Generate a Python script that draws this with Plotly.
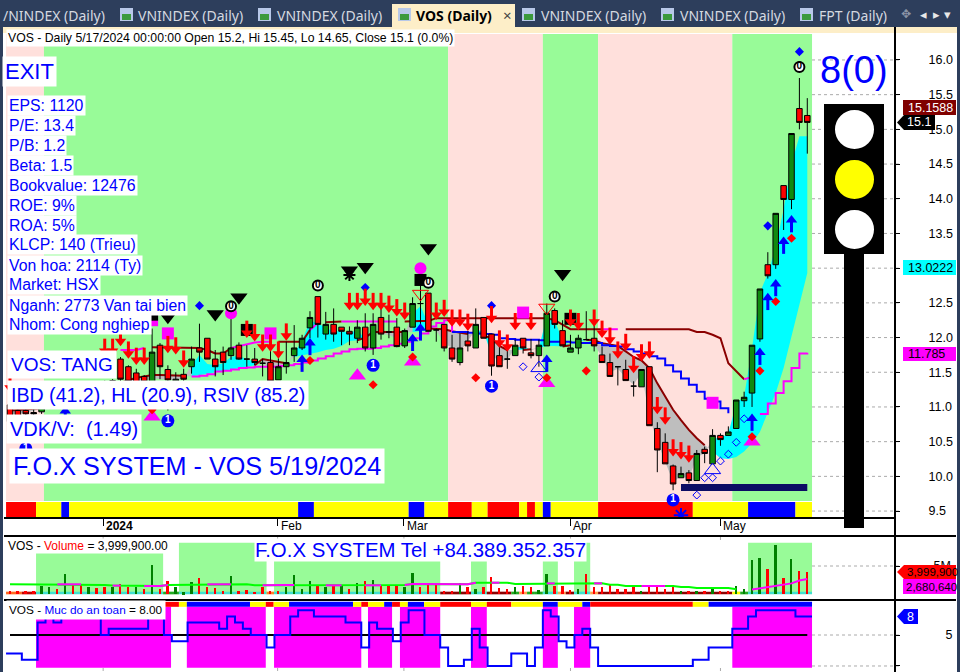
import plotly.graph_objects as go

W, H = 960, 672
STEP = 7.894
nan = float("nan")

opens = [11.03,10.95,10.95,10.92,10.93,11.02,11.05,11.02,11.05,11.12,11.2,11.3,11.32,11.3,11.69,11.58,11.49,11.44,11.36,11.89,11.54,11.35,11.47,11.58,11.85,11.99,11.69,11.79,11.74,11.89,11.69,11.69,11.63,11.64,11.39,11.58,11.74,11.85,12.14,12.59,12.05,12.19,12.15,12.09,11.99,12.15,11.85,12.29,12.08,12.15,
         11.88,12.15,12.49,12.64,12.11,12.19,11.85,11.64,11.95,11.85,12.29,12.05,11.74,11.69,11.74,11.99,11.78,11.74,11.88,12.39,12.10,11.79,11.85,11.97,11.99,11.75,11.64,11.58,11.54,11.30,11.29,11.58,10.69,10.49,10.15,9.98,10.05,9.94,10.39,10.18,10.59,10.59,10.69,11.09,11.20,11.98,13.05,13.05,14.19,13.99,15.30,15.20]
highs = [11.05,10.98,11.0,10.98,11.07,11.08,11.12,11.1,11.15,11.2,11.3,11.36,11.38,11.4,11.72,11.6,11.55,11.46,12.13,11.92,11.6,11.5,11.55,11.87,12.2,11.99,11.82,11.87,12.37,11.93,11.89,11.85,11.69,11.97,11.7,11.94,12.18,12.04,12.38,12.59,12.37,12.42,12.15,12.16,12.25,12.35,12.35,12.42,12.33,12.28,
         12.13,12.58,12.76,12.64,12.13,12.19,12.04,12.06,12.09,12.42,12.29,12.05,11.87,11.94,11.97,11.99,11.98,11.97,12.49,12.42,12.25,12.04,12.04,12.38,12.37,11.87,11.77,11.58,11.68,11.37,11.54,11.58,10.78,10.62,10.17,10.14,10.09,10.38,10.43,10.68,10.62,10.72,11.10,11.22,11.89,12.70,13.23,13.79,14.19,14.94,15.74,15.45]
lows = [10.75,10.8,10.85,10.85,10.9,10.97,11.0,10.98,11.0,11.08,11.15,11.25,11.28,11.25,11.3,11.3,11.2,11.3,11.2,11.4,10.95,11.3,11.35,11.48,11.65,11.69,11.44,11.46,11.68,11.68,11.58,11.6,11.44,11.37,11.39,11.48,11.65,11.82,11.99,12.0,11.97,11.94,11.89,11.89,11.92,11.80,11.75,11.97,11.99,11.86,
        11.85,12.15,12.16,12.09,11.94,11.80,11.65,11.60,11.80,11.85,11.99,11.45,11.58,11.55,11.74,11.77,11.70,11.58,11.88,12.13,11.88,11.79,11.76,11.97,11.80,11.64,11.44,11.31,11.38,11.15,11.29,10.73,10.06,10.18,9.80,9.98,9.90,9.94,10.19,10.18,10.44,10.59,10.69,11.00,11.00,11.94,12.85,12.99,13.55,13.85,15.0,14.65]
closes = [10.79,10.85,10.9,10.9,11.01,11.05,11.08,11.07,11.12,11.18,11.28,11.35,11.35,11.38,11.4,11.37,11.35,11.36,11.79,11.58,11.39,11.4,11.4,11.69,11.79,11.69,11.58,11.64,11.85,11.69,11.69,11.64,11.63,11.37,11.58,11.64,11.85,11.99,12.29,12.19,12.19,12.05,12.09,12.05,12.15,11.85,12.19,12.05,12.08,11.87,
          12.10,12.49,12.49,12.09,12.11,11.85,11.69,11.85,11.88,12.19,11.99,11.59,11.58,11.69,11.89,11.85,11.74,11.89,12.35,12.19,11.88,11.85,11.99,11.97,11.88,11.64,11.44,11.58,11.38,11.30,11.54,10.73,10.38,10.18,9.89,10.04,9.94,10.33,10.33,10.59,10.53,10.64,11.10,11.14,11.89,12.70,12.89,13.79,13.99,14.94,15.10,15.10]

short_avg = [10.9,10.9,10.92,10.95,10.97,11.02,11.06,11.08,11.1,11.15,11.2,11.25,11.3,11.32,11.35,11.37,11.37,11.37,11.42,11.4,11.4,11.38,11.42,11.6,11.75,11.62,11.6,11.63,11.72,11.74,11.68,11.66,11.66,11.5,11.52,11.6,11.78,11.95,12.25,12.2,12.15,12.08,12.1,12.06,12.12,11.97,12.08,12.05,12.04,11.98,
             12.05,12.35,12.45,12.2,12.1,11.92,11.85,11.8,11.95,12.12,12.08,11.75,11.65,11.68,11.85,11.88,11.82,11.85,12.3,12.25,11.95,11.88,11.97,11.97,11.9,11.72,11.5,11.55,11.42,11.32,11.5,10.85,10.5,10.22,9.92,10.0,9.97,10.28,10.33,10.55,10.55,10.62,11.05,11.15,11.85,12.65,12.92,13.3,13.85,14.5,14.9,14.9]
mid_avg = [10.95,10.96,10.97,10.97,10.98,10.98,10.99,11.02,11.05,11.1,11.15,11.2,11.25,11.3,11.35,11.39,11.42,11.44,11.46,11.46,11.46,11.45,11.45,11.44,11.46,11.48,11.51,11.52,11.54,11.56,11.58,11.6,11.69,11.67,11.65,11.63,11.72,11.74,11.76,11.79,11.82,11.84,11.88,11.95,11.96,12.0,12.08,12.08,12.08,12.08,
           12.08,12.08,12.09,12.13,12.13,12.12,12.09,12.07,12.05,12.04,12.03,11.99,11.88,11.82,11.82,11.82,11.83,11.85,11.88,11.88,11.87,11.89,11.94,11.97,11.96,11.92,11.9,11.88,11.8,11.72,11.67,11.56,11.34,11.15,10.96,10.81,10.67,10.55,10.45,10.36,10.26,10.25,10.28,10.36,10.48,10.64,10.91,11.2,11.56,12.01,12.47,12.93]
long_avg = [nan]*14 + [11.82,11.82,11.82,11.85,11.86,11.86,11.86,11.86,11.86,11.86,11.85,11.82,11.77,11.77,11.85,11.88,11.91,11.93,11.94,11.94,11.94,11.94,11.94,11.94,12.11,12.21,12.22,12.22,12.23,12.23,12.23,12.23,12.23,12.23,12.23,12.23,12.23,12.24,12.24,12.24,
            12.28,12.28,12.28,12.28,12.28,12.28,12.28,12.28,12.28,12.28,12.28,12.28,12.28,12.28,12.28,12.25,12.18,12.12,12.12,12.12,12.12,12.12,12.12,12.12,12.12,12.12,12.12,12.12,12.12,12.12,12.12,12.12,12.12,12.08,12.08,12.04,11.99,11.63,11.51,11.40,11.43] + [nan]*7
long_magenta = [(14,17),(28,33),(38,39),(42,49),(75,77),(93,94)]
trail = [nan]*23 + [11.44,11.45,11.47,11.51,11.52,11.54,11.56,11.57,11.58,11.58,11.58,11.59,11.6,11.62,11.64,11.67,11.7,11.73,11.77,11.8,11.83,11.84,11.84,11.85,11.87,11.89,11.91,11.94,11.99,12.06,12.16,12.21,12.25,
         12.08,12.08,12.07,12.06,12.05,12.04,11.99,11.98,11.97,11.97,11.97,11.96,11.94,11.94,11.94,11.93,11.92,11.92,11.92,11.89,11.88,11.87,11.83,11.8,11.77,11.73,11.7,11.6,11.51,11.41,11.32,11.22,11.12,11.08,10.98,10.91,nan,nan,nan,10.9,11.05,11.2,11.37,11.56,11.77,11.78]
trail_blue = (56, 91)

arrow_down = {0:11.32,12:11.85,13:11.85,14:11.99,15:11.81,16:11.72,17:11.72,20:11.89,21:11.87,22:11.68,30:12.11,31:12.06,32:11.91,33:11.91,34:11.81,35:12.07,43:12.51,44:12.51,45:12.57,46:12.51,47:12.51,48:12.47,49:12.42,
              50:12.37,54:12.37,55:12.41,56:12.27,57:12.27,58:12.21,61:12.32,62:11.97,63:11.91,64:12.22,66:12.22,71:12.27,72:12.22,74:12.27,75:12.11,76:12.01,77:11.81,78:11.92,79:11.6,80:11.77,81:11.81,82:11.01,83:10.86,84:10.4,85:10.36,86:10.31}
arrow_up = {7:10.9,37:11.64,38:11.88,51:11.94,52:12.09,68:11.64,94:10.79,95:11.74,96:12.53,97:12.73,98:13.34,99:13.65}
mag_tri = {18:10.86,44:11.45,51:11.65,68:11.34,94:10.5}
mag_sq = {18:12.25,20:12.06,33:12.06,65:12.36,89:11.06}
blk_tri = {8:12.35,11:12.35,18:12.35,20:12.3,26:12.34,29:12.58,43:12.97,45:13.02,53:13.29,70:12.92}
blk_sq = {18:12.33,30:12.11,52:12.83,71:12.27}
mag_circ = {28:12.35,52:13.0}
zero_circ = {28:12.45,39:12.75,53:12.79,69:12.59,100:15.9}
one_circ = {2:10.4,20:10.8,46:11.6,61:11.3,84:9.66}
red_dia = {18:10.96,38:11.67,46:11.32,51:11.72,59:11.42,68:11.42,73:11.52,94:10.57,95:11.52,97:12.52,99:13.43}
blue_dia = {24:12.46,45:12.72,61:12.46,96:13.61,100:16.12}
open_dia = {65:11.58,67:11.43,87:9.73,88:9.98,89:9.98,90:10.22,91:10.32,92:10.49,93:10.83}
open_tri_up = {67:11.56,89:10.09}
open_tri_dn = {52:12.63,68:12.43}
star_blue = {85:9.44}
star_black = {43:12.9}
support = (85, 101, 9.84)

band_edges = [-0.5,4.3,55.5,67.5,74.5,91.5,101.6]
band_cols = ["#ffe0dc","#98fb98","#ffe0dc","#98fb98","#ffe0dc","#98fb98"]
strip_edges = [-0.5,3.3,6.5,7.5,36.5,38.5,50.5,52.5,55.5,58.5,60.5,64.5,65.5,66.5,67.5,68.5,74.5,86.5,93.5,99.5,101.6]
strip_cols = ["red","yellow","blue","yellow","blue","yellow","blue","yellow","red","yellow","red","yellow","red","yellow","blue","yellow","red","yellow","blue","yellow"]

volume = [.6,.48,.5,.5,1.43,1.31,.83,3.51,1.73,1.61,1.31,1.01,1.31,1.31,1.73,1.19,1.31,.95,5.18,.89,2.32,1.19,.3,2.08,2.86,1.31,1.01,.6,3.21,.6,.71,.36,1.19,.54,.6,1.31,3.39,.89,2.26,1.55,1.19,1.61,1.61,.89,1.9,2.32,2.5,1.61,1.61,1.61,
          1.31,3.75,1.31,1.9,2.02,.5,.5,1.9,1.19,.9,1.19,3.04,1.07,.95,1.19,1.43,1.31,.71,3.57,1.43,1.43,.71,.89,3.57,1.31,1.31,1.61,.89,.95,1.31,.6,1.55,1.61,.83,1.67,.48,.6,.6,.54,.89,.54,.54,1.43,.83,6.07,6.43,4.46,8.75,2.92,6.25,4.11,4.0]
vol_dir = "RRRRGGRGRRGRRGRRGRGRRGGGRRRRGRRRRRRGGGGRGRGRGRGRRRGGRRRRRGRGRRRRGRRGGRRRGRRRRRRRGRRRRGRGRGRRGGGGRGRGRR"
vol_long = [1.73]*10+[1.61]*3+[1.5]*4+[1.43]*3+[1.6]*2+[1.73]*9+[1.55]*2+[1.6]*5+[1.55]*10+[1.6]*3+[1.8]*4+[1.75]*4+[2.02]*5+[1.8]*4+[1.9]*6+[1.9]*2+[1.67]*2+[1.43]*7+[1.25]*2+[1.07]*5+[.83]
vol_mag_ranges = [(6,7),(8,9),(13,14),(17,18),(19,20),(25,26),(27,28),(32,33),(34,36),(40,42),(45,47),(50,54),(55,56),(57,59),(61,62),(68,69),(74,75),(80,81),(82,83)]
vol_short_end = [.8,1.0,1.3,1.45,1.7,1.9,2.4,2.68]
vol_band_edges = [(3.3,19.4,7.38),(21.4,32.5,9.17),(33.45,54.5,5.89),(58.4,60.4,5.89),(67.5,69.4,5.89),(71.45,73.5,9.17),(93.5,101.6,9.17)]
vol_strip_edges = [-0.5,1.5,3.3,19.4,21.4,32.5,33.45,54.5,58.4,60.4,63.5,64.5,65.5,66.5,67.5,69.4,70.4,71.45,73.5,74.5,91.5,92.5,93.5,101.6]
vol_strip_cols = ["#ff6a20","#c00000","turquoise","#22aa22","turquoise","#ff7f27","turquoise","#8b0000","turquoise","#8b0000","#22aa22","#ffa050","#22aa22","#22aa22","turquoise","#ffa050","#8b0000","turquoise","#ffa050","#8b0000","yellow","#22aa22","turquoise"]

safety = [2,2,1,1,7,8,7,8,8,8,8,8,5,6,6,6,6,6,8,8,5,4,4,7,7,7,7,6,8,7,6,5,5,3,5,5,8,9,9,8,8,8,8,7,7,3,7,6,6,4,7,9,9,5,5,3,0,0,1,6,
          3,0,0,0,2,2,0,3,9,8,4,3,5,6,3,0,0,0,0,0,0,0,0,0,0,0,0,1,1,3,3,3,6,6,8,9,9,9,9,9,8,8]
safe_regions = [(3.3,20.4),(22.4,32.4),(33.45,44.5),(45.35,48.4),(49.4,54.5),(58.4,60.4),(67.5,69.4),(71.45,73.5),(91.5,101.6)]
safe_strip_edges = [19.4,21.4,22.4,30.4,32.4,33.4,35.35,43.45,44.5,45.35,47.4,48.4,49.4,50.4,52.45,54.5,58.4,60.4,63.5,67.5,69.4,72.5,73.5,86.5,88.5,101.6]
safe_strip_cols = ["red","yellow","blue","yellow","red","yellow","blue","yellow","red","yellow","blue","red","yellow","blue","yellow","red","yellow","red","yellow","blue","yellow","blue","red","yellow","blue"]

price_ticks = [9.5,10,10.5,11,11.5,12,12.5,13,13.5,14,14.5,15,15.5,16]
date_ticks = [11.8,33.9,49.9,71,90]
date_labels = ["2024","Feb","Mar","Apr","May"]
info_lines = ["EPS: 1120","P/E: 13.4","P/B: 1.2","Beta: 1.5","Bookvalue: 12476","ROE: 9%","ROA: 5%","KLCP: 140 (Trieu)","Von hoa: 2114 (Ty)","Market: HSX","Nganh: 2773 Van tai bien","Nhom: Cong nghiep"]
tabs = [(2,"/NINDEX (Daily)",None),(137,"VNINDEX (Daily)",120),(276,"VNINDEX (Daily)",258),(540,"VNINDEX (Daily)",522),(679,"VNINDEX (Daily)",661),(818,"FPT (Daily)",800)]

SANS = "Liberation Sans"
n = len(closes)
idx = list(range(n))
px = lambda v: v / W
py = lambda v: 1 - v / H

fig = go.Figure()
shapes, notes = [], []

def rect(x0, y0, x1, y1, color, layer="above", xref="paper", yref="paper"):
    shapes.append(dict(type="rect", xref=xref, yref=yref, x0=x0, y0=y0, x1=x1, y1=y1,
                       fillcolor=color, line=dict(width=0), layer=layer))

def prect(x0, y0, x1, y1, color, layer="above"):
    rect(px(x0), py(y0), px(x1), py(y1), color, layer)

def pline(x0, y0, x1, y1, color="black", width=2, dash="solid", layer="above"):
    shapes.append(dict(type="line", xref="paper", yref="paper", x0=px(x0), y0=py(y0), x1=px(x1), y1=py(y1),
                       line=dict(color=color, width=width, dash=dash), layer=layer))

def circle(cx, cy, r, color):
    shapes.append(dict(type="circle", xref="paper", yref="paper", x0=px(cx-r), y0=py(cy-r), x1=px(cx+r), y1=py(cy+r),
                       fillcolor=color, line=dict(width=0), layer="above"))

def label(x, y, text, size, color="#0000ff", bg="white", font=SANS, anchor="left", **kw):
    notes.append(dict(xref="paper", yref="paper", x=px(x), y=py(y), text=text, showarrow=False,
                      xanchor=anchor, yanchor="middle", bgcolor=bg, borderpad=kw.pop("pad", 1),
                      font=dict(family=font, size=size, color=color), **kw))

def callout(x0, x1, y0, y1, text, bg, color, size=12.5):
    ym = (y0 + y1) / 2
    path = f"M {px(x0)} {py(ym)} L {px(x0+7)} {py(y0)} L {px(x1)} {py(y0)} L {px(x1)} {py(y1)} L {px(x0+7)} {py(y1)} Z"
    shapes.append(dict(type="path", xref="paper", yref="paper", path=path, fillcolor=bg, line=dict(width=0), layer="above"))
    label(x0 + 9, ym, text, size, color, None, pad=0)

def rows(d):
    return list(d.keys()), list(d.values())

def marker(d, symbol, size, color, line_color=None, line_w=0, text=None, text_color="white", tsize=9):
    x, y = rows(d)
    fig.add_trace(go.Scatter(x=x, y=y, yaxis="y4", mode="markers+text" if text else "markers",
                             text=[text]*len(x) if text else None, textposition="middle center",
                             textfont=dict(family=SANS, size=tsize, color=text_color),
                             marker=dict(symbol=symbol, size=size, color=color,
                                         line=dict(color=line_color or color, width=line_w))))

def split(values, ranges):
    on, off = [nan]*n, [nan]*n
    for i, v in enumerate(values):
        inside = any(a <= i <= b for a, b in ranges)
        edge = any(i == b + 1 or i == a for a, b in ranges)
        if inside:
            on[i] = v
        if not inside or edge:
            off[i] = v
    return on, off

# ---- background chrome: short dotted grid stubs only
for t in date_ticks:
    for ya, yb in ((27, 33), (537, 543), (668, 672)):
        shapes.append(dict(type="line", xref="x", yref="paper", x0=t, x1=t, y0=py(ya), y1=py(yb),
                           line=dict(color="#aaaaaa", width=1, dash="dot"), layer="below"))
for a, b, c in zip(band_edges[:-1], band_edges[1:], band_cols):
    rect(a, py(501), b, py(34), c, "below", xref="x")
for a, b, c in zip(strip_edges[:-1], strip_edges[1:], strip_cols):
    rect(a, py(518), b, py(502), c, "below", xref="x")
for a, b, top in vol_band_edges:
    rect(a, 0, b, top, "#98fb98", "below", xref="x", yref="y2")
for a, b, c in zip(vol_strip_edges[:-1], vol_strip_edges[1:], vol_strip_cols):
    rect(a, -0.06, b, 0.42, c, "below", xref="x", yref="y2")
for a, b in safe_regions:
    rect(a, -0.3, b, 9.55, "#ff00ff", "below", xref="x", yref="y3")
for a, b, c in zip(safe_strip_edges[:-1], safe_strip_edges[1:], safe_strip_cols):
    rect(a, 9.55, b, 10.35, c, "below", xref="x", yref="y3")
GRID_X = [101.6, 112.6]
for axis, vals in (("y", price_ticks), ("y2", [5]), ("y3", [0, 5])):
    for v in vals:
        shapes.append(dict(type="line", xref="x", yref=axis, x0=GRID_X[0], x1=GRID_X[1], y0=v, y1=v,
                           line=dict(color="#aaaaaa", width=1, dash="dot"), layer="below"))

# ---- fills between short and mid averages
start = 0
for i in range(1, n + 1):
    if i == n or (short_avg[i] >= mid_avg[i]) != (short_avg[start] >= mid_avg[start]):
        end = min(i, n - 1)
        seg = list(range(start, end + 1))
        col = "#00ffff" if short_avg[start] >= mid_avg[start] else "#bebebe"
        fig.add_trace(go.Scatter(x=seg, y=[mid_avg[k] for k in seg], mode="lines", line=dict(width=0)))
        fig.add_trace(go.Scatter(x=seg, y=[short_avg[k] for k in seg], mode="lines", line=dict(width=0),
                                 fill="tonexty", fillcolor=col))
        start = i

# ---- lines
mid_line = [m if s < m or (i + 1 < n and short_avg[i + 1] < mid_avg[i + 1]) else nan
            for i, (s, m) in enumerate(zip(short_avg, mid_avg))]
fig.add_trace(go.Scatter(x=idx, y=mid_line, mode="lines", line=dict(color="#8b0000", width=2)))
la_mag, la_red = split(long_avg, long_magenta)
fig.add_trace(go.Scatter(x=idx, y=la_red, mode="lines", line=dict(color="#8b0000", width=2)))
fig.add_trace(go.Scatter(x=idx, y=la_mag, mode="lines", line=dict(color="#ff00ff", width=2)))
tr_blue, tr_mag = split(trail, [trail_blue])
fig.add_trace(go.Scatter(x=idx, y=tr_mag, mode="lines", line=dict(color="#ff00ff", width=2, shape="hv")))
fig.add_trace(go.Scatter(x=idx, y=tr_blue, mode="lines", line=dict(color="#0000ff", width=2, shape="hv")))

# ---- candles (overlay axis, above the fills)
fig.add_trace(go.Candlestick(x=idx, open=opens, high=highs, low=lows, close=closes, yaxis="y4", whiskerwidth=0,
                             increasing=dict(fillcolor="#108a10", line=dict(color="black", width=1)),
                             decreasing=dict(fillcolor="#ff0000", line=dict(color="black", width=1))))

# ---- support bar
fig.add_trace(go.Scatter(x=[support[0], support[1]], y=[support[2], support[2]], yaxis="y4", mode="lines",
                         line=dict(color="#0c0c64", width=7)))

# ---- signals
marker(mag_sq, "square", 12, "#ff00ff")
marker(mag_circ, "circle", 12, "#ff00ff")
marker(blk_sq, "square", 12, "black")
marker(blk_tri, "triangle-down", 15, "black")
marker(mag_tri, "triangle-up", 15, "#ff00ff")
marker(open_tri_up, "triangle-up-open", 14, "#0000ff", line_w=1)
marker(open_tri_dn, "triangle-down-open", 14, "#ff0000", line_w=1)
marker(open_dia, "diamond-open", 6, "#0000ff", line_w=1)
marker(red_dia, "diamond", 7, "#ff0000")
marker(blue_dia, "diamond", 7, "#0000ff")
marker(star_blue, "asterisk-open", 12, "#0000ff", line_w=2)
marker(star_black, "asterisk-open", 10, "black", line_w=2)
PX = 1 / 69.4
for d, col, head, sgn in ((arrow_down, "#ff0000", "triangle-down", 1), (arrow_up, "#0000ff", "triangle-up", -1)):
    x, y = rows(d)
    fig.add_trace(go.Scatter(x=x, y=[v + sgn * 3 * PX for v in y], yaxis="y4", mode="markers",
                             marker=dict(symbol="line-ns", size=9, line=dict(color=col, width=3))))
    fig.add_trace(go.Scatter(x=x, y=[v - sgn * 3 * PX for v in y], yaxis="y4", mode="markers",
                             marker=dict(symbol=head, size=10, color=col, line=dict(width=0))))
marker(zero_circ, "circle", 10, "white", "black", 2, "<b>0</b>", "black", 10)
marker(one_circ, "circle", 13, "#0000ff", "#0000ff", 0, "<b>1</b>", "white", 10)

# ---- volume
vol_colors = ["#008000" if c == "G" else "#ff0000" for c in vol_dir]
fig.add_trace(go.Bar(x=idx, y=volume, yaxis="y2", width=0.24, marker=dict(color=vol_colors, line=dict(width=0))))
vl = vol_long + [nan]*(n - len(vol_long))
fig.add_trace(go.Scatter(x=idx, y=vl, yaxis="y2", mode="lines", line=dict(color="#00ff00", width=2)))
vs = [nan]*(n - len(vol_short_end)) + vol_short_end
for a, b in vol_mag_ranges:
    for i in range(a, b + 1):
        vs[i] = vl[i]
fig.add_trace(go.Scatter(x=idx, y=vs, yaxis="y2", mode="lines", line=dict(color="#ff00ff", width=2)))

# ---- safety panel
fig.add_trace(go.Scatter(x=idx, y=[5]*n, yaxis="y3", mode="lines", line=dict(color="black", width=2)))
sx = [i - 0.5 for i in idx] + [101.6]
sy = safety + [safety[-1]]
fig.add_trace(go.Scatter(x=sx, y=sy, yaxis="y3", mode="lines", line=dict(color="#0000ff", width=2, shape="hv")))

# ---- frame, tabs
prect(0, 0, W, 27, "#2d3e5c")
prect(3, 27, 957, 33, "#fdeec8")
prect(0, 27, 3, H, "#2d3e5c")
prect(957, 27, W, H, "#2d3e5c")
prect(392, 4, 515, 27, "#fdeec8")
for x, text, icon in tabs:
    if icon is not None:
        prect(icon, 8, icon + 13, 21, "#b8c8e8")
        prect(icon + 2, 14, icon + 11, 20, "#3c9a3c")
    label(x, 15, text, 14, "#d5d9e0", None, "Noto Sans", pad=0)
prect(398, 8, 411, 21, "#b8c8e8")
prect(400, 14, 409, 20, "#3c9a3c")
label(415, 15, "<b>VOS (Daily)</b>", 14, "black", None, "Noto Sans", pad=0)
label(502, 15, "×", 15, "#444444", None, "Noto Sans", pad=0)
label(900, 14, "✥", 12, "#8a94a6", None, "DejaVu Sans", pad=0)
label(919, 14, "◂", 13, "#e8e8e8", None, "DejaVu Sans", pad=0)
label(932, 14, "▸", 13, "#e8e8e8", None, "DejaVu Sans", pad=0)
label(943, 14, "▾", 13, "#e8e8e8", None, "DejaVu Sans", pad=0)

pline(4, 518, 895, 518)
pline(4, 536, 956, 536)
pline(4, 600, 956, 600)
pline(895, 27, 895, H)

# ---- traffic light
prect(844, 254, 864, 528, "black")
prect(824, 104, 884, 254, "black")
circle(854.5, 129.5, 19.5, "white")
circle(854.5, 179.5, 19.5, "#ffff00")
circle(854.5, 229.5, 19.5, "white")
label(819, 70, "8(0)", 38, "#0000ff", None, pad=0)

# ---- text labels
label(6, 38, "VOS - Daily 5/17/2024 00:00:00 Open 15.2, Hi 15.45, Lo 14.65, Close 15.1 (0.0%)", 12.25, "black")
label(2, 72, "EXIT", 22, pad=2)
for i, t in enumerate(info_lines):
    label(7, 105 + 20 * i, t, 15.8)
label(7, 364, "VOS: TANG", 19, pad=3)
label(7, 395, "IBD (41.2), HL (20.9), RSIV (85.2)", 19.6, pad=3)
label(6, 429, "VDK/V:  (1.49)", 20, pad=3)
label(9, 466, "F.O.X SYSTEM - VOS 5/19/2024", 25.2, pad=3)
label(254, 550, "F.O.X SYSTEM Tel +84.389.352.357", 20.4, pad=0)
label(7, 546, 'VOS - <span style="color:#ff0000">Volume</span> = 3,999,900.00', 12, "black", pad=0)
label(6, 610, 'VOS - <span style="color:#0000ff">Muc do an toan</span> = 8.00', 11.8, "black", pad=2)
for t, lab in zip(date_ticks, date_labels):
    notes.append(dict(xref="x", yref="paper", x=t, y=py(526), text=f"<b>{lab}</b>" if lab == "2024" else lab, showarrow=False,
                      xanchor="left", xshift=1, yanchor="middle", font=dict(family=SANS, size=12, color="black")))

# ---- last-value tags
prect(903, 100, 956, 115, "#800000")
label(907, 108, "15.1588", 12.5, "white", None, pad=0)
callout(897, 935, 115, 130, "15.1", "black", "white")
prect(903, 260, 956, 275, "#00ffff")
label(907, 268, "13.0222", 12.5, "black", None, pad=0)
prect(903, 347, 956, 361, "#ff00ff")
label(907, 354, "11.785", 12.5, "black", None, pad=0)
callout(897, 956, 565, 579, "3,999,900", "#ff0000", "black", 11.5)
prect(903, 579, 956, 594, "#ff00ff")
label(905, 587, "2,680,640", 11.5, "black", None, pad=0)
callout(897, 918, 609, 624, "8", "#0000ff", "white")

axis_font = dict(family=SANS, size=12.5, color="black")
common = dict(anchor="free", position=895 / W, side="right", showline=False, ticks="outside", ticklen=4,
              tickcolor="black", showgrid=False, zeroline=False, tickfont=axis_font)
fig.update_layout(
    width=W, height=H, autosize=False, margin=dict(l=0, r=0, t=0, b=0), showlegend=False,
    paper_bgcolor="white", plot_bgcolor="white", bargap=0, boxgap=0, hovermode=False,
    xaxis=dict(domain=[0, 899 / W], range=[-10 / STEP, 889 / STEP], tickvals=date_ticks, ticktext=[""]*5,
               ticks="outside", ticklen=7, tickcolor="black", showgrid=False, zeroline=False, showline=False,
               rangeslider=dict(visible=False), anchor="y"),
    yaxis=dict(domain=[py(518), py(27)], range=[9.40, 16.475], tickvals=price_ticks,
               ticktext=[f"{v:.1f}" for v in price_ticks], ticklabelstandoff=26, **common),
    yaxis2=dict(domain=[py(600), py(536)], range=[-1.07, 10.36], tickvals=[5], ticktext=["5M"], ticklabelstandoff=31, **common),
    yaxis3=dict(domain=[py(H), py(600)], range=[-0.97, 10.65], tickvals=[0, 5], ticktext=["0", "5"], ticklabelstandoff=43, **common),
    yaxis4=dict(overlaying="y", range=[9.40, 16.475], visible=False, anchor="x"),
    shapes=shapes, annotations=notes,
)
fig.write_html("out.html", config={"displayModeBar": False},
               post_script="document.body.style.margin='0';document.documentElement.style.overflow='hidden';")
